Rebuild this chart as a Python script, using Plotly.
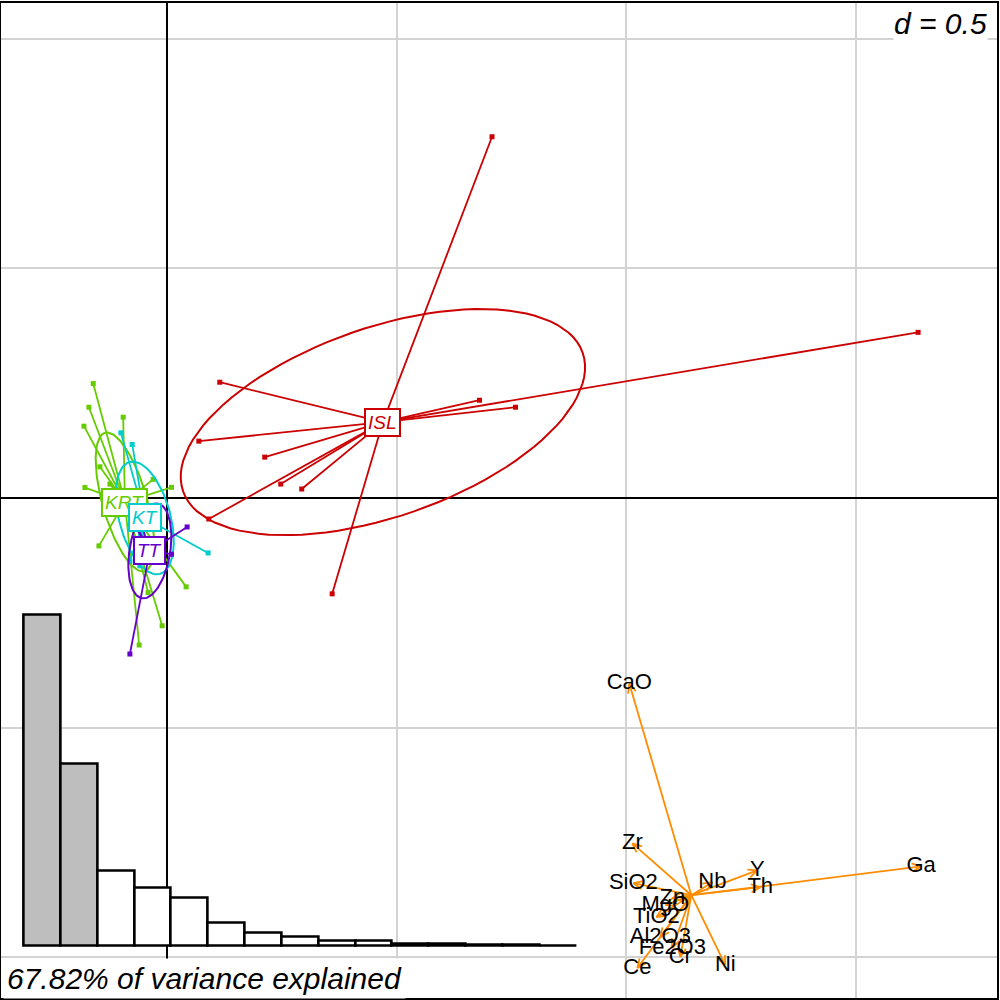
import numpy as np
import plotly.graph_objects as go

# ---------------- data ----------------
groups = ["ISL", "KRT", "KT", "TT"]
group_colors = ["#CC0000", "#66CC00", "#00CCCC", "#6600CC"]

isl_x = [0.7076, 1.6348, 0.1152, 0.6804, 0.7587, 0.0696, 0.2130, 0.2478, 0.2935, 0.0913, 0.3598]
isl_y = [0.7870, 0.3609, 0.2522, 0.2130, 0.1978, 0.1239, 0.0891, 0.0304, 0.0196, -0.0457, -0.2087]

krt_x = [-0.1602, -0.1696, -0.0950, -0.1804, -0.1457, -0.1783, -0.0298, 0.0102, -0.1478, 0.0420,
         -0.0407, -0.0102, -0.0602, -0.1239, -0.1130, -0.0804, -0.0978, -0.0696, -0.0843]
krt_y = [0.2493, 0.1978, 0.1761, 0.1565, 0.0680, 0.0228, 0.0407, 0.0233, -0.1043, -0.1935,
         -0.2059, -0.2783, -0.3202, 0.0304, 0.0043, 0.0152, -0.0283, -0.0174, -0.0020]

kt_x = [-0.1000, -0.0754, 0.0898, -0.0804, -0.0587, -0.0630]
kt_y = [0.1420, 0.1167, -0.1196, -0.1370, -0.1478, -0.1152]

tt_x = [0.0441, 0.0102, -0.0804, -0.0696, -0.0587, -0.0674]
tt_y = [-0.0630, -0.1224, -0.3398, -0.0609, -0.0457, -0.0596]

variables = ["CaO", "Zr", "SiO2", "Nb", "Y", "Th", "Ga", "Ni", "Ce", "Cr",
             "Fe2O3", "Al2O3", "TiO2", "MgO", "Zn"]
load_x = [-0.1348, -0.1283, -0.1261, 0.0457, 0.1435, 0.1500, 0.5000, 0.0739, -0.1174, -0.0239,
          -0.0413, -0.0674, -0.0761, -0.0565, -0.0413]
load_y = [0.4609, 0.1130, 0.0261, 0.0283, 0.0543, 0.0174, 0.0630, -0.1522, -0.1587, -0.1348,
          -0.1152, -0.0913, -0.0478, -0.0217, -0.0065]

eigenvalues = [6.543, 3.610, 1.478, 1.143, 0.946, 0.453, 0.256, 0.177, 0.108, 0.108,
               0.043, 0.043, 0.024, 0.024, 0.006]
n_kept = 2
variance_text = "67.82% of variance explained"
scale_text = "d = 0.5"

# ---------------- layout constants ----------------
W = H = 1000
ML, MR, MT, MB = 1, 2, 1, 2
PX = 460.0                      # pixels per unit
X_RANGE = [-0.3609, 1.8065]
Y_RANGE = [-1.0891, 1.0783]
ARROW_ORIGIN = (1.1413, -0.8652)
FONT = "Liberation Sans, Arial, sans-serif"


def ade_ellipse(xs, ys, coeff=1.0, n=100):
    xs = np.asarray(xs, float)
    ys = np.asarray(ys, float)
    mx, my = xs.mean(), ys.mean()
    vx = ((xs - mx) ** 2).mean()
    vy = ((ys - my) ** 2).mean()
    cxy = ((xs - mx) * (ys - my)).mean()
    delta = np.sqrt((vx - vy) ** 2 + 4 * cxy * cxy)
    l1 = (vx + vy + delta) / 2
    l2 = max(vx + vy - l1, 0)
    if abs(cxy) < 1e-12:
        a0, b0 = (1.0, 0.0) if vx > vy else (0.0, 1.0)
    else:
        a0 = 1.0
        b0 = (l1 - vx) / cxy
        nr = np.hypot(a0, b0)
        a0, b0 = a0 / nr, b0 / nr
    s1, s2 = np.sqrt(l1), np.sqrt(l2)
    t = np.linspace(0, 2 * np.pi, n + 1)
    ex = mx + coeff * a0 * s1 * np.cos(t) - coeff * b0 * s2 * np.sin(t)
    ey = my + coeff * b0 * s1 * np.cos(t) + coeff * a0 * s2 * np.sin(t)
    return ex, ey, mx, my


fig = go.Figure()
annotations = []

group_data = [(isl_x, isl_y), (krt_x, krt_y), (kt_x, kt_y), (tt_x, tt_y)]
for name, col, (gx, gy) in zip(groups, group_colors, group_data):
    ex, ey, cx, cy = ade_ellipse(gx, gy)
    fig.add_trace(go.Scatter(x=ex, y=ey, mode="lines", line=dict(color=col, width=2),
                             hoverinfo="skip", showlegend=False))
    sx, sy = [], []
    for px_, py_ in zip(gx, gy):
        sx += [cx, px_, None]
        sy += [cy, py_, None]
    fig.add_trace(go.Scatter(x=sx, y=sy, mode="lines", line=dict(color=col, width=1.8),
                             hoverinfo="skip", showlegend=False))
    fig.add_trace(go.Scatter(x=gx, y=gy, mode="markers",
                             marker=dict(symbol="square", size=5, color=col),
                             hoverinfo="skip", showlegend=False))
    annotations.append(dict(x=cx, y=cy, xref="x", yref="y", text="<i>%s</i>" % name,
                            showarrow=False, font=dict(family=FONT, size=19, color=col),
                            bgcolor="white", bordercolor=col, borderwidth=2, borderpad=2))

# arrows for variables
ox, oy = ARROW_ORIGIN
head_len = 10.0 / PX
head_ang = np.deg2rad(24)
ax_, ay_ = [], []
for dx, dy in zip(load_x, load_y):
    tx, ty = ox + dx, oy + dy
    ax_ += [ox, tx, None]
    ay_ += [oy, ty, None]
    ang = np.arctan2(dy, dx)
    for s in (+1, -1):
        a = ang + np.pi + s * head_ang
        ax_ += [tx, tx + head_len * np.cos(a), None]
        ay_ += [ty, ty + head_len * np.sin(a), None]
fig.add_trace(go.Scatter(x=ax_, y=ay_, mode="lines", line=dict(color="#FF8C00", width=1.8),
                         hoverinfo="skip", showlegend=False))
fig.add_trace(go.Scatter(x=[ox + dx for dx in load_x], y=[oy + dy for dy in load_y],
                         mode="text", text=variables, textposition="middle center",
                         textfont=dict(family=FONT, size=22, color="black"),
                         hoverinfo="skip", showlegend=False))

# eigenvalue bar inset
bar_cols = ["#BEBEBE" if i < n_kept else "white" for i in range(len(eigenvalues))]
fig.add_trace(go.Bar(x=list(range(1, len(eigenvalues) + 1)), y=eigenvalues, width=1.0,
                     marker=dict(color=bar_cols, line=dict(color="black", width=2.6)),
                     xaxis="x2", yaxis="y2", hoverinfo="skip", showlegend=False))

pw = W - ML - MR
ph = H - MT - MB
bar_px = (577 - 23.7) / len(eigenvalues)
pad = 4.0
x2_dom = [(23.7 - pad - ML) / pw, (577 + pad - ML) / pw]
x2_rng = [0.5 - pad / bar_px, len(eigenvalues) + 0.5 + pad / bar_px]
ypx_unit = (946 - 614) / max(eigenvalues)
y2_dom = [(H - MB - 946 - pad) / ph, (H - MB - 614 + pad) / ph]
y2_rng = [-pad / ypx_unit, max(eigenvalues) + pad / ypx_unit]

annotations.append(dict(x=(989 - ML) / pw, y=(H - MB - 22) / ph, xref="paper", yref="paper",
                        xanchor="right", yanchor="middle", text="<i>%s</i>" % scale_text,
                        showarrow=False, font=dict(family=FONT, size=30, color="black"),
                        bgcolor="white", borderpad=0))
annotations.append(dict(x=(3 - ML) / pw, y=(H - MB - 978) / ph, xref="paper", yref="paper",
                        xanchor="left", yanchor="middle", text="<i>%s</i>" % variance_text,
                        showarrow=False, font=dict(family=FONT, size=30, color="black"),
                        bgcolor="white", borderpad=3))

axis_common = dict(showgrid=True, gridcolor="#D3D3D3", gridwidth=2, dtick=0.5, tick0=0,
                   zeroline=True, zerolinecolor="black", zerolinewidth=2,
                   showticklabels=False, ticks="", showline=True, mirror=True,
                   linecolor="black", linewidth=2)

fig.update_layout(
    width=W, height=H, margin=dict(l=ML, r=MR, t=MT, b=MB),
    paper_bgcolor="white", plot_bgcolor="rgba(0,0,0,0)", showlegend=False,
    xaxis=dict(range=X_RANGE, domain=[0, 1], **axis_common),
    yaxis=dict(range=Y_RANGE, domain=[0, 1], **axis_common),
    xaxis2=dict(domain=x2_dom, range=x2_rng, anchor="y2", visible=False),
    yaxis2=dict(domain=y2_dom, range=y2_rng, anchor="x2", visible=False),
    annotations=annotations,
    bargap=0,
)

fig.write_html("out.html", config={"displayModeBar": False},
               post_script="document.body.style.margin='0px';")
